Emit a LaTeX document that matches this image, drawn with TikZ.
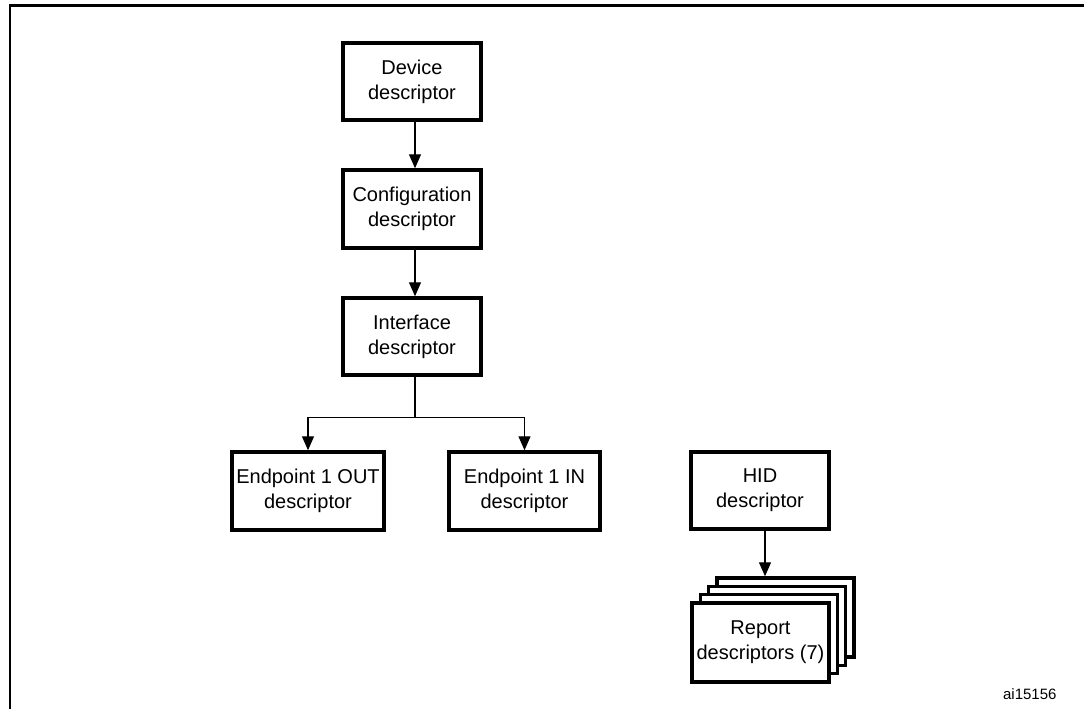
\documentclass[tikz,border=0pt]{standalone}
\usepackage{fontspec}
\setmainfont{Liberation Sans}
\usetikzlibrary{arrows.meta,calc}
\begin{document}
\begin{tikzpicture}[x=1pt,y=-1pt,
  box/.style={draw=black,line width=3.5pt,fill=white,align=center,
    inner sep=0pt,font=\fontsize{20}{25}\selectfont,anchor=center},
  conn/.style={line width=1.3pt,-{Triangle[length=14pt,width=12pt]}},
  plain/.style={line width=1.3pt},
  frameline/.style={line width=2.4pt}]
\useasboundingbox (0,0) rectangle (1084,709);
% frame (open on right and bottom, cropped)
\coordinate (ftl) at (10,5.5);
\coordinate (fbl) at (10,712);
\coordinate (ftr) at (1090,5.5);
\draw[frameline] (fbl) -- (ftl) -- (ftr);
% boxes
\node[box,minimum width=138pt,minimum height=77pt] (dev) at (412,81.5) {Device\\descriptor};
\node[box,minimum width=138pt,minimum height=78pt] (conf) at (412,209) {Configuration\\descriptor};
\node[box,minimum width=138pt,minimum height=77pt] (intf) at (412,336.5) {Interface\\descriptor};
\node[box,minimum width=152pt,minimum height=78pt] (epout) at (308,491) {Endpoint 1 OUT\\descriptor};
\node[box,minimum width=151pt,minimum height=78pt] (epin) at (524.5,491) {Endpoint 1 IN\\descriptor};
\node[box,minimum width=138pt,minimum height=77pt] (hid) at (760,490.5) {HID\\descriptor};
% report descriptor stack
\node[box,minimum width=137pt,minimum height=79pt] (r4) at (785.5,617.5) {};
\node[box,minimum width=137pt,minimum height=79pt] (r3) at (777,626) {};
\node[box,minimum width=137pt,minimum height=79pt] (r2) at (769,634) {};
\node[box,minimum width=137pt,minimum height=79pt] (r1) at (760.5,642.5) {Report\\descriptors (7)};
% connectors
\draw[conn] ($(dev.south)+(3,0)$) -- ($(conf.north)+(3,0)$);
\draw[conn] ($(conf.south)+(3,0)$) -- ($(intf.north)+(3,0)$);
\coordinate (br) at ($(intf.south)+(3,41)$);
\draw[plain] ($(intf.south)+(3,0)$) -- (br);
\draw[conn] (br) -| (epout.north);
\draw[conn] (br) -| (epin.north);
\coordinate (hs) at ($(hid.south)+(5,0)$);
\draw[conn] (hs) -- (hs |- r4.north);
% label
\node[font=\fontsize{15}{18}\selectfont,anchor=base east] (lbl) at (1060,699) {ai15156};
\end{tikzpicture}
\end{document}
